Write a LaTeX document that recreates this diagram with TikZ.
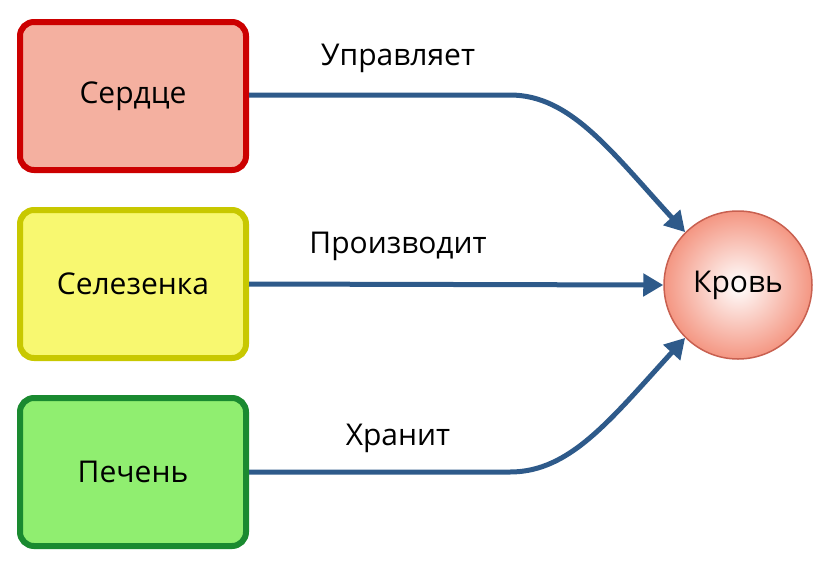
\documentclass[tikz,border=0pt]{standalone}
\usepackage{fontspec}
\setmainfont{Open Sans}
\usetikzlibrary{arrows.meta}
\definecolor{arr}{HTML}{2E5A8A}
\begin{document}
\begin{tikzpicture}[x=1pt,y=-1pt,
  box/.style={draw,line width=6pt,rounded corners=14pt,minimum width=226pt,minimum height=148pt,font=\fontsize{30}{36}\selectfont},
  lbl/.style={font=\fontsize{30}{36}\selectfont},
  con/.style={draw=arr,line width=5pt,-{Triangle[length=20pt,width=22pt]}}]
\useasboundingbox (0,0) rectangle (832,568);
\node[box,draw=red!80!black,fill={rgb,255:red,244;green,176;blue,160}] (s) at (133,96) {Сердце};
\node[box,draw={rgb,255:red,200;green,200;blue,0},fill={rgb,255:red,248;green,248;blue,112}] (l) at (133,284) {Селезенка};
\node[box,draw={rgb,255:red,26;green,138;blue,48},fill={rgb,255:red,144;green,238;blue,112}] (p) at (133,472) {Печень};
\node[circle,draw={rgb,255:red,200;green,96;blue,80},line width=1.5pt,minimum size=148pt,inner color=white,outer color={rgb,255:red,244;green,150;blue,130},font=\fontsize{30}{36}\selectfont] (k) at (738,285) {Кровь};
\coordinate (a1) at (510,95);
\coordinate (a3) at (510,472);
\draw[con] (s.east |- 0,95) -- (a1) .. controls (570,95) and (610,150) .. (k.135);
\draw[con] (l.east) -- (k.west);
\draw[con] (p.east |- 0,472) -- (a3) .. controls (570,472) and (610,420) .. (k.225);
\node[lbl] (t1) at (398,58) {Управляет};
\node[lbl] (t2) at (398,246) {Производит};
\node[lbl] (t3) at (398,438) {Хранит};
\end{tikzpicture}
\end{document}
